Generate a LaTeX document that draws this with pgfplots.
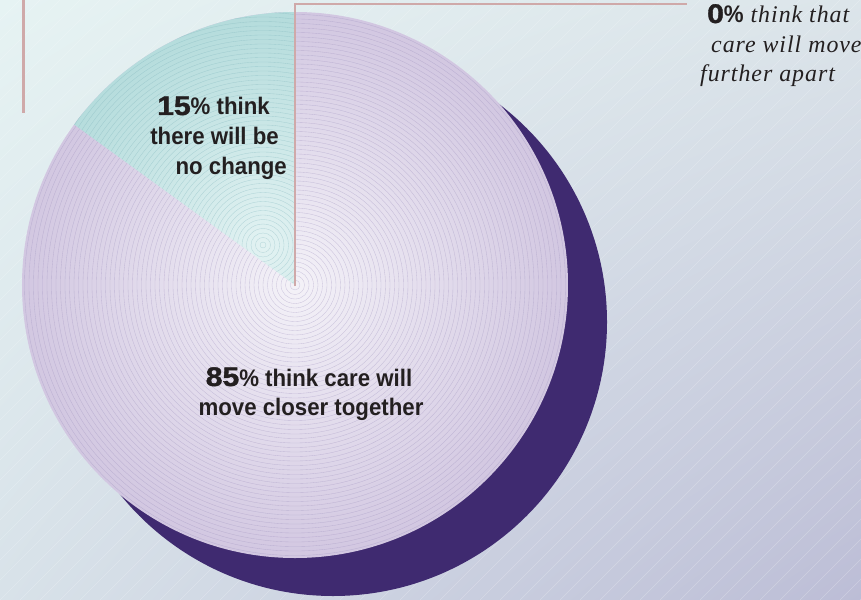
\documentclass[border=0pt]{standalone}
\usepackage{pgfplots}
\pgfplotsset{compat=1.18}
\usetikzlibrary{shadings}
\usepackage{fontspec}
\setmainfont{Liberation Serif}
\newfontfamily\cond[FakeStretch=0.93]{Liberation Sans}
\newfontfamily\heavy[FakeBold=1.5,FakeStretch=1.12]{Liberation Sans}
\newfontfamily\itsp[LetterSpace=4]{Liberation Serif}
\definecolor{bgTL}{HTML}{E6F3F3}
\definecolor{bgTR}{HTML}{DCE5EA}
\definecolor{bgBL}{HTML}{D8E2E9}
\definecolor{bgBR}{HTML}{BCBDD6}
\definecolor{shadow}{HTML}{3F2A70}
\definecolor{lavOut}{HTML}{D2C7E1}
\definecolor{lavIn}{HTML}{F4F2F8}
\definecolor{tealOut}{HTML}{A6D5D5}
\definecolor{tealIn}{HTML}{E2F2F2}
\definecolor{leaderc}{HTML}{CFA9A9}
\definecolor{ringLav}{HTML}{9E92BE}
\definecolor{ringTeal}{HTML}{7FB5BC}
\definecolor{txt}{HTML}{231F20}
% data: share of respondents (percent)
\def\valCloser{85}
\def\valNoChange{15}
\def\valApart{0}
\pgfmathsetmacro{\endang}{90+3.6*\valNoChange}
\newcommand\lab{\cond\bfseries\fontsize{24}{29}\selectfont}
\newcommand\num{\heavy\bfseries\fontsize{27}{29}\selectfont}
\newcommand\ita{\itsp\itshape\fontsize{24}{30}\selectfont}
\begin{document}
\begin{tikzpicture}
\begin{axis}[
  x=1bp, y=1bp, y dir=reverse,
  xmin=0, xmax=861, ymin=0, ymax=600,
  hide axis, scale only axis, clip=true,
]
% background
\shade[upper left=bgTL, upper right=bgTR, lower left=bgBL, lower right=bgBR]
  (axis cs:0,0) rectangle (axis cs:861,600);
\pgfplotsinvokeforeach{-600,-580,...,860}{
  \draw[white, opacity=0.25, line width=0.5pt] (axis cs:#1,600) -- ++(600bp,600bp);
}
% shadow
\fill[shadow] (axis cs:333,322) circle[radius=274bp];
% main slice (85%)
\shade[inner color=lavIn, outer color=lavOut] (axis cs:295,285) circle[radius=273bp];
\begin{scope}
  \clip (axis cs:295,285) circle[radius=273bp];
  \pgfplotsinvokeforeach{5,9.5,...,270}{
    \draw[ringLav, opacity=0.45, line width=0.35pt] (axis cs:295,285) circle[radius=#1 bp];
  }
\end{scope}
% 15% slice: from 90 deg counter-clockwise by 15% of 360
\begin{scope}
  \clip (axis cs:295,285) -- ++(90:273bp) arc[start angle=90, end angle=\endang, radius=273bp] -- cycle;
  \shade[inner color=tealIn, outer color=tealOut] (axis cs:263,245) circle[radius=300bp];
  \pgfplotsinvokeforeach{3,7.5,...,270}{
    \draw[ringTeal, opacity=0.45, line width=0.35pt] (axis cs:263,245) circle[radius=#1 bp];
  }
\end{scope}
% leader lines
\draw[leaderc, line width=2.6pt] (axis cs:295,286) -- (axis cs:295,4) -- (axis cs:687,4);
\draw[leaderc, line width=2.6pt] (axis cs:23.5,0) -- (axis cs:23.5,113);
% labels: 15%
\node[anchor=base east, text=txt, inner sep=0pt] at (axis cs:270,115) {{\num\valNoChange}{\lab\% think}};
\node[anchor=base east, text=txt, inner sep=0pt] at (axis cs:279,145) {\lab there will be};
\node[anchor=base east, text=txt, inner sep=0pt] at (axis cs:287,175) {\lab no change};
% labels: 85%
\node[anchor=base, text=txt, inner sep=0pt] at (axis cs:309,386) {{\num\valCloser}{\lab\% think care will}};
\node[anchor=base, text=txt, inner sep=0pt] at (axis cs:311,415) {\lab move closer together};
% labels: 0%
\node[anchor=base west, text=txt, inner sep=0pt] at (axis cs:707,23) {{\num\valApart}{\lab\%}{\ita\ think that}};
\node[anchor=base west, text=txt, inner sep=0pt] at (axis cs:711,53) {\ita care will move};
\node[anchor=base west, text=txt, inner sep=0pt] at (axis cs:700,82) {\ita further apart};
\end{axis}
\end{tikzpicture}
\end{document}
